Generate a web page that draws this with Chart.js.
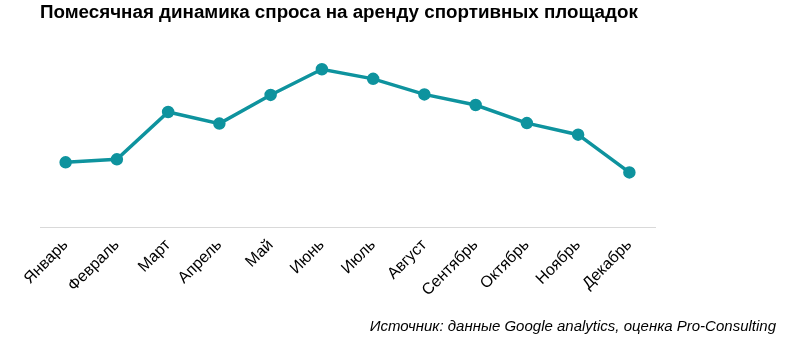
<!DOCTYPE html>
<html>
<head>
<meta charset="utf-8">
<script src="https://cdn.jsdelivr.net/npm/chart.js@4.4.0/dist/chart.umd.min.js"></script>
<style>
    html, body { margin: 0; padding: 0; background: #fff; }
    #wrap { position: relative; width: 798px; height: 341px; }
    #source {
        position: absolute; right: 22px; top: 317px;
        font: italic 15px "Liberation Sans", Arial, sans-serif; color: #000;
    }
</style>
</head>
<body>
<div id="wrap">
    <canvas id="chart-demand" width="798" height="341"></canvas>
    <div id="source">Источник: данные Google analytics, оценка Pro-Consulting</div>
</div>
<script>
    var months = ["Январь", "Февраль", "Март", "Апрель", "Май", "Июнь",
                  "Июль", "Август", "Сентябрь", "Октябрь", "Ноябрь", "Декабрь"];
    var demand = [65, 68, 115, 103.5, 132, 157.5, 148, 132.5, 122, 104, 92.5, 55];

    var domChart = document.getElementById("chart-demand");
    var chartDemand = new Chart(domChart, {
        type: 'line',
        data: {
            labels: months,
            datasets: [{
                label: "Спрос",
                data: demand,
                borderColor: "#0e939e",
                backgroundColor: "#0e939e",
                borderWidth: 3.5,
                pointRadius: 4.5,
                pointHoverRadius: 4.5,
                fill: false,
                tension: 0
            }]
        },
        options: {
            responsive: false,
            animation: false,
            layout: { padding: { left: 40, right: 143, top: 2, bottom: 33 } },
            plugins: {
                legend: { display: false },
                tooltip: { enabled: false },
                title: {
                    display: true,
                    align: 'start',
                    text: "Помесячная динамика спроса на аренду спортивных площадок",
                    color: "#000",
                    font: { family: "'Liberation Sans', Arial, sans-serif", size: 18.8, weight: 'bold' },
                    padding: { top: 0, bottom: 10 }
                }
            },
            scales: {
                x: {
                    offset: true,
                    grid: { display: false, drawTicks: false },
                    border: { display: true, color: "#d9d9d9", width: 1 },
                    ticks: {
                        color: "#000",
                        maxRotation: 45,
                        minRotation: 45,
                        padding: 8,
                        font: { family: "'Liberation Sans', Arial, sans-serif", size: 16 }
                    }
                },
                y: {
                    display: false,
                    min: 0,
                    max: 192
                }
            }
        }
    });
</script>
</body>
</html>
